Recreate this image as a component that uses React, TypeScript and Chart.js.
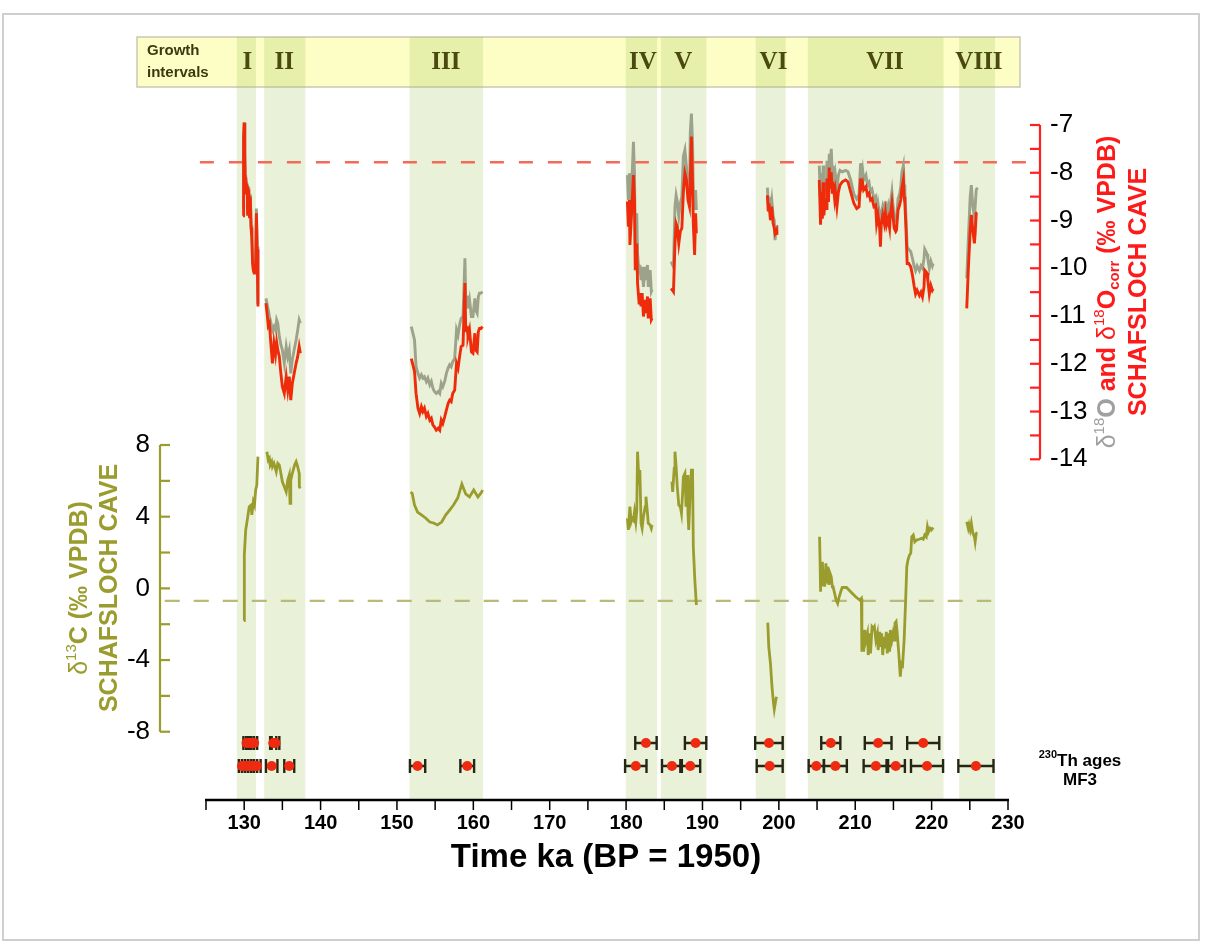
import React, { useEffect, useRef } from "react";
import { Chart, registerables } from "chart.js";
Chart.register(...registerables);

// ---------- axes ----------
const X_MIN = 125;
const X_MAX = 230;
const X_TICKS = [125, 130, 135, 140, 145, 150, 155, 160, 165, 170, 175, 180, 185, 190, 195, 200, 205, 210, 215, 220, 225, 230];
const X_LABELS = [130, 140, 150, 160, 170, 180, 190, 200, 210, 220, 230];
const O18_LABELS = [-7, -8, -9, -10, -11, -12, -13, -14];
const O18_MINOR = [-7.5, -8.5, -9.5, -10.5, -11.5, -12.5, -13.5];
const C13_LABELS = [8, 4, 0, -4, -8];
const C13_MINOR = [6, 2, -2, -6];

// ---------- growth intervals ----------
const intervalNames = ["I", "II", "III", "IV", "V", "VI", "VII", "VIII"];
const intervalStart = [129.04, 132.62, 151.65, 179.96, 184.55, 196.97, 203.8, 223.6];
const intervalEnd = [131.54, 138.0, 161.27, 184.07, 190.5, 200.9, 221.56, 228.3];
const intervalLabelAt = [130.4, 135.25, 156.4, 182.2, 187.5, 199.3, 213.9, 226.2];

// ---------- reference lines ----------
const O18_REF = -7.78;
const C13_REF = -0.7;

// ---------- d18O (grey) and d18Ocorr (red) ----------
const kaI = [129.85, 129.9, 129.95, 130.0, 130.05, 130.1, 130.15, 130.2, 130.3, 130.4, 130.45, 130.5, 130.6, 130.7, 130.8, 130.9, 131.0, 131.1, 131.2, 131.3, 131.4, 131.5, 131.6, 131.7, 131.8];
const redI = [-8.9, -8.2, -7.3, -6.95, -7.9, -7.6, -8.3, -8.1, -8.45, -8.3, -8.9, -8.35, -8.4, -8.95, -8.5, -9.15, -9.35, -9.9, -10.05, -10.1, -9.9, -10.0, -8.85, -9.6, -10.8];
const greyI = [-8.75, -8.15, -7.25, -6.95, -7.85, -7.55, -8.25, -8.05, -8.4, -8.25, -8.85, -8.3, -8.35, -8.9, -8.45, -9.1, -9.3, -9.85, -10.0, -10.05, -9.85, -9.95, -8.75, -9.55, -10.75];

const kaII = [132.85, 133.0, 133.15, 133.3, 133.5, 133.7, 133.9, 134.1, 134.25, 134.4, 134.6, 134.8, 135.0, 135.25, 135.5, 135.7, 135.9, 136.1, 136.3, 136.55, 136.8, 137.0, 137.2, 137.35];
const redII = [-10.73, -10.95, -11.2, -11.15, -11.6, -11.99, -11.57, -11.8, -11.55, -11.71, -11.85, -12.2, -12.48, -12.62, -12.27, -12.55, -12.27, -12.76, -12.41, -12.2, -11.99, -11.85, -11.64, -11.78];
const greyII = [-10.63, -10.75, -10.87, -11.0, -11.15, -11.3, -11.22, -11.3, -11.08, -11.15, -11.43, -11.6, -11.71, -11.99, -11.64, -11.85, -11.71, -12.2, -11.92, -11.7, -11.5, -11.3, -11.08, -11.15];

const kaIII = [151.88, 152.3, 152.5, 152.75, 152.97, 153.2, 153.4, 153.6, 153.85, 154.05, 154.3, 154.5, 154.7, 154.9, 155.15, 155.4, 155.6, 155.8, 156.0, 156.25, 156.47, 156.7, 156.9, 157.1, 157.3, 157.56, 157.8, 158.0, 158.2, 158.4, 158.65, 158.9, 159.0, 159.2, 159.3, 159.5, 159.75, 159.95, 160.2, 160.3, 160.5, 160.65, 160.8, 161.0, 161.2];
const redIII = [-11.89, -12.16, -12.62, -12.93, -13.04, -12.9, -13.0, -12.93, -13.1, -13.04, -13.18, -13.14, -13.28, -13.32, -13.39, -13.35, -13.39, -13.18, -13.25, -13.11, -12.97, -12.83, -12.76, -12.79, -12.62, -12.55, -11.99, -12.09, -11.85, -11.64, -11.61, -10.31, -11.29, -11.26, -11.43, -11.29, -11.75, -11.78, -11.36, -11.71, -11.75, -11.33, -11.26, -11.26, -11.22];
const greyIII = [-11.22, -11.5, -12.06, -12.2, -12.3, -12.23, -12.3, -12.27, -12.37, -12.3, -12.44, -12.37, -12.51, -12.58, -12.62, -12.58, -12.62, -12.41, -12.48, -12.37, -12.2, -12.09, -12.02, -12.06, -11.96, -11.89, -11.29, -11.4, -11.19, -11.05, -11.01, -9.79, -10.6, -10.6, -10.84, -10.66, -11.01, -11.01, -10.63, -10.87, -10.94, -10.6, -10.52, -10.52, -10.49];

const kaIV = [180.17, 180.3, 180.43, 180.5, 180.7, 180.96, 181.1, 181.2, 181.4, 181.5, 181.7, 181.8, 181.96, 182.1, 182.27, 182.5, 182.6, 182.8, 182.9, 183.15, 183.3, 183.4];
const redIV = [-8.6, -9.13, -8.57, -9.51, -8.92, -8.05, -8.57, -10.04, -9.48, -10.31, -10.73, -10.52, -10.8, -10.52, -11.01, -10.66, -10.94, -10.59, -11.05, -10.63, -11.08, -11.05];
const greyIV = [-8.05, -8.57, -8.01, -8.99, -8.43, -7.35, -8.01, -9.41, -8.85, -9.69, -10.1, -9.93, -10.25, -9.97, -10.39, -9.97, -10.25, -9.93, -10.39, -10.04, -10.49, -10.45];

const kaV = [185.9, 186.2, 186.4, 186.55, 186.7, 186.9, 187.1, 187.3, 187.5, 187.7, 187.9, 188.1, 188.3, 188.4, 188.55, 188.7, 188.8, 188.97, 189.1, 189.2];
const redV = [-10.42, -10.49, -9.48, -9.06, -9.13, -9.48, -9.23, -9.16, -8.4, -8.01, -8.15, -8.57, -8.71, -8.15, -7.24, -8.22, -9.06, -9.72, -8.85, -9.27];
const greyV = [-9.86, -9.97, -8.71, -8.47, -8.6, -8.92, -8.64, -8.5, -7.66, -7.52, -7.87, -8.36, -8.5, -7.17, -6.76, -7.38, -8.43, -8.78, -8.36, -8.78];

const kaVI = [198.5, 198.6, 198.7, 198.9, 199.07, 199.25, 199.4, 199.5, 199.7, 199.75];
const redVI = [-8.47, -8.78, -8.64, -8.99, -8.71, -9.06, -9.16, -9.27, -9.2, -9.3];
const greyVI = [-8.31, -8.6, -8.5, -8.78, -8.57, -8.9, -9.0, -9.41, -9.1, -9.2];

const kaVII = [205.29, 205.46, 205.6, 205.7, 205.8, 205.9, 206.07, 206.2, 206.3, 206.5, 206.6, 206.7, 206.86, 207.0, 207.1, 207.3, 207.4, 207.6, 207.8, 208.0, 208.3, 208.74, 209.05, 209.4, 209.83, 210.2, 210.5, 210.7, 210.84, 210.97, 211.1, 211.4, 211.6, 211.8, 212.0, 212.2, 212.45, 212.67, 212.8, 212.98, 213.2, 213.3, 213.4, 213.6, 213.8, 213.95, 214.1, 214.3, 214.5, 214.6, 214.8, 214.9, 215.1, 215.3, 215.4, 215.6, 215.8, 215.96, 216.1, 216.3, 216.4, 216.5, 216.65, 216.8, 217.0, 217.27, 217.5, 217.7, 217.9, 218.1, 218.4, 218.6, 218.8, 219.0, 219.1, 219.4, 219.5, 219.7, 219.9, 220.1, 220.2];
const redVII = [-8.15, -9.09, -8.4, -8.96, -8.2, -8.89, -8.54, -8.75, -8.12, -8.61, -7.89, -8.33, -7.99, -8.44, -8.19, -8.54, -8.4, -8.71, -8.4, -8.26, -8.19, -8.15, -8.19, -8.4, -8.64, -8.75, -8.71, -8.12, -8.29, -8.22, -8.36, -8.29, -8.47, -8.43, -8.57, -8.54, -8.71, -8.68, -9.06, -8.89, -9.16, -9.55, -9.09, -8.89, -9.06, -8.85, -9.09, -8.96, -9.16, -8.89, -8.64, -8.82, -9.16, -9.23, -9.2, -8.78, -8.68, -8.57, -8.33, -8.15, -8.5, -8.64, -9.2, -9.9, -9.9, -9.97, -10.15, -10.36, -10.54, -10.46, -10.57, -10.5, -10.6, -10.39, -10.04, -10.1, -10.25, -10.54, -10.36, -10.46, -10.43];
const greyVII = [-7.85, -8.6, -8.0, -8.55, -7.85, -8.5, -8.15, -8.35, -7.75, -8.2, -7.6, -7.95, -7.5, -8.05, -7.85, -8.2, -8.05, -8.35, -8.05, -7.95, -7.98, -7.95, -7.98, -8.15, -8.45, -8.55, -8.45, -7.8, -8.1, -7.95, -8.15, -8.05, -8.25, -8.2, -8.4, -8.35, -8.55, -8.5, -8.85, -8.65, -8.9, -9.25, -8.85, -8.7, -8.85, -8.6, -8.85, -8.7, -8.95, -8.65, -8.4, -8.6, -8.95, -9.0, -8.95, -8.55, -8.45, -8.3, -8.0, -7.85, -8.25, -8.4, -8.95, -9.55, -9.6, -9.65, -9.8, -9.95, -10.05, -9.95, -10.05, -9.95, -10.0, -9.8, -9.6, -9.7, -9.8, -10.0, -9.85, -9.95, -9.9];

const kaVIII = [224.6, 224.8, 225.05, 225.2, 225.4, 225.6, 225.7, 225.84, 226.0];
const redVIII = [-10.84, -10.04, -9.2, -8.88, -9.2, -9.48, -9.27, -8.85, -8.84];
const greyVIII = [-10.21, -9.41, -8.5, -8.26, -8.71, -8.92, -8.71, -8.36, -8.31];

// ---------- d13C (olive) ----------
const kaC1 = [129.98, 129.99, 130.05, 130.2, 130.4, 130.66, 130.9, 131.0, 131.2, 131.35, 131.5, 131.65, 131.8];
const c13_1 = [-1.8, 1.5, 1.9, 3.26, 3.81, 4.56, 4.65, 4.1, 4.84, 4.65, 5.49, 5.77, 7.35];
const kaC2 = [132.97, 133.15, 133.3, 133.4, 133.6, 133.7, 133.9, 134.2, 134.4, 134.6, 134.8, 135.0, 135.25, 135.5, 135.7, 135.9, 136.0, 136.1, 136.3, 136.6, 136.8, 137.0, 137.2, 137.22, 137.35];
const c13_2 = [7.63, 7.16, 7.26, 6.88, 7.07, 6.79, 6.98, 6.51, 6.98, 6.88, 6.42, 5.95, 5.67, 5.39, 6.05, 6.33, 4.75, 6.05, 6.42, 6.88, 7.07, 6.79, 6.42, 5.67, 5.58];
const kaC3 = [151.8, 152.0, 152.3, 152.7, 153.2, 153.75, 154.3, 154.8, 155.3, 155.85, 156.4, 156.9, 157.4, 157.95, 158.5, 159.0, 159.5, 160.05, 160.6, 161.1, 161.2];
const c13_3 = [5.38, 5.3, 4.65, 4.26, 4.1, 3.93, 3.7, 3.65, 3.54, 3.7, 4.1, 4.37, 4.65, 5.04, 5.82, 5.27, 5.1, 5.49, 5.1, 5.38, 5.49];
const kaC4 = [180.17, 180.3, 180.5, 180.66, 180.8, 180.96, 181.1, 181.27, 181.4, 181.5, 181.7, 181.8, 181.96, 182.1, 182.27, 182.5, 182.6, 182.8, 182.9, 183.15, 183.3, 183.4];
const c13_4 = [3.91, 3.26, 4.56, 3.72, 3.91, 3.81, 4.28, 3.72, 4.37, 7.63, 5.86, 6.6, 3.63, 3.35, 4.0, 4.56, 5.12, 4.19, 3.63, 3.54, 3.35, 3.54];
const kaC5 = [186.0, 186.1, 186.3, 186.4, 186.55, 186.7, 186.9, 187.1, 187.25, 187.4, 187.5, 187.7, 187.85, 188.0, 188.1, 188.2, 188.4, 188.55, 188.7, 188.8, 189.0, 189.2];
const c13_5 = [5.95, 5.39, 6.7, 7.63, 6.79, 5.67, 4.65, 4.56, 4.19, 5.3, 6.23, 6.42, 4.56, 6.33, 4.19, 3.26, 5.49, 6.6, 6.6, 2.32, 0.47, -0.93];
const kaC6 = [198.55, 198.68, 198.9, 199.1, 199.3, 199.4, 199.6, 199.7];
const c13_6 = [-1.91, -3.26, -4.19, -5.49, -6.42, -6.75, -6.23, -6.05];
const kaC7 = [205.33, 205.4, 205.46, 205.55, 205.63, 205.7, 205.8, 205.9, 206.0, 206.16, 206.3, 206.4, 206.55, 206.7, 206.86, 207.0, 207.1, 207.3, 207.5, 207.7, 207.9, 208.1, 208.3, 208.86, 209.4, 210.05, 210.6, 210.8, 210.87, 211.0, 211.1, 211.25, 211.4, 211.6, 211.7, 211.9, 212.0, 212.2, 212.37, 212.5, 212.7, 212.9, 213.0, 213.2, 213.3, 213.46, 213.6, 213.77, 213.9, 214.07, 214.2, 214.4, 214.5, 214.6, 214.8, 214.95, 215.1, 215.2, 215.35, 215.5, 215.7, 215.9, 216.05, 216.2, 216.4, 216.6, 216.75, 216.9, 217.1, 217.27, 217.4, 217.6, 217.8, 218.06, 218.37, 218.7, 218.9, 219.1, 219.3, 219.45, 219.6, 219.8, 219.97, 220.2];
const c13_7 = [2.88, 1.4, -0.19, 1.21, 0.47, 1.49, 0.19, 1.02, 0.09, 1.4, 0.28, 1.21, 0.19, 0.84, 0.65, 0.09, 0.09, -0.28, -0.65, -0.84, -0.47, -0.19, 0.05, 0.05, -0.19, -0.47, -0.65, -0.56, -3.53, -2.51, -3.53, -2.32, -2.88, -2.51, -3.72, -2.51, -3.63, -2.14, -2.23, -2.14, -2.88, -2.51, -3.44, -2.42, -3.26, -2.51, -3.72, -2.7, -3.35, -2.42, -3.63, -2.51, -3.53, -2.32, -2.88, -2.51, -2.88, -1.95, -1.86, -2.51, -3.63, -4.93, -4.19, -4.28, -2.88, -0.65, 1.21, 1.58, 1.86, 1.96, 2.88, 2.98, 2.6, 2.7, 2.74, 2.79, 2.74, 2.98, 2.88, 3.44, 3.16, 3.35, 3.26, 3.4];
const kaC8 = [224.6, 224.8, 224.9, 225.05, 225.2, 225.4, 225.6, 225.7, 225.84, 226.0];
const c13_8 = [3.72, 3.35, 3.54, 3.26, 3.63, 3.07, 2.88, 2.6, 3.07, 3.1];

// ---------- 230Th ages (MF3) ----------
const ageKa = [130.3, 130.6, 130.9, 131.3, 133.8, 134.1, 182.6, 189.1, 198.7, 206.8, 213.0, 218.9,
  129.7, 130.1, 130.5, 130.9, 131.3, 131.7, 133.6, 135.9, 152.7, 159.2, 181.27, 186.0, 188.4, 198.8, 204.9, 207.4, 212.7, 215.3, 219.4, 225.8];
const ageErr = [0.4, 0.35, 0.4, 0.4, 0.4, 0.5, 1.4, 1.4, 1.8, 1.25, 1.75, 2.1,
  0.4, 0.4, 0.4, 0.4, 0.4, 0.45, 0.75, 0.65, 1.0, 0.9, 1.4, 1.3, 1.3, 1.7, 1.0, 1.5, 1.6, 1.2, 2.1, 2.3];
const ageRow = [2, 2, 2, 2, 2, 2, 2, 2, 2, 2, 2, 2,
  1, 1, 1, 1, 1, 1, 1, 1, 1, 1, 1, 1, 1, 1, 1, 1, 1, 1, 1, 1];

// ---------- colours ----------
const RED = "#ee2c0c";
const GREY = "#9ca38a";
const OLIVE = "#9b9c2e";
const SANS = "'Liberation Sans', Arial, sans-serif";

function joinSegments(kas: number[][], vals: number[][]) {
  const out: { x: number; y: number | null }[] = [];
  kas.forEach((k, i) => {
    if (i > 0) {
      const prev = kas[i - 1];
      out.push({ x: (prev[prev.length - 1] + k[0]) / 2, y: null });
    }
    k.forEach((x, j) => out.push({ x, y: vals[i][j] }));
  });
  return out;
}

type Part = { t: string; font: string; color: string; dy?: number };
function drawRich(ctx: CanvasRenderingContext2D, parts: Part[], cx: number, cy: number, rot: number) {
  ctx.save();
  ctx.translate(cx, cy);
  ctx.rotate(rot);
  let total = 0;
  parts.forEach((p) => { ctx.font = p.font; total += ctx.measureText(p.t).width; });
  let x = -total / 2;
  ctx.textAlign = "left";
  ctx.textBaseline = "middle";
  parts.forEach((p) => {
    ctx.font = p.font;
    ctx.fillStyle = p.color;
    ctx.fillText(p.t, x, p.dy || 0);
    x += ctx.measureText(p.t).width;
  });
  ctx.restore();
}

const overlay = {
  id: "overlay",
  beforeDraw(chart: any) {
    const ctx = chart.ctx as CanvasRenderingContext2D;
    ctx.save();
    ctx.fillStyle = "#ffffff";
    ctx.fillRect(0, 0, chart.width, chart.height);
    ctx.strokeStyle = "#cfcfcf";
    ctx.lineWidth = 2;
    ctx.strokeRect(3, 14, 1196, 926);
    ctx.restore();
  },
  beforeDatasetsDraw(chart: any) {
    const ctx = chart.ctx as CanvasRenderingContext2D;
    const { x, yA } = chart.scales;
    const area = chart.chartArea;
    ctx.save();
    // growth interval box
    const boxL = 137, boxR = 1020, boxT = 37, boxB = 87;
    ctx.fillStyle = "#fdfdc6";
    ctx.fillRect(boxL, boxT, boxR - boxL, boxB - boxT);
    ctx.strokeStyle = "#c9c9b0";
    ctx.lineWidth = 1.5;
    ctx.strokeRect(boxL, boxT, boxR - boxL, boxB - boxT);
    // shaded bands
    ctx.fillStyle = "rgba(150,195,70,0.21)";
    intervalStart.forEach((s, i) => {
      const l = x.getPixelForValue(s);
      const r = x.getPixelForValue(intervalEnd[i]);
      ctx.fillRect(l, boxT, r - l, area.bottom - boxT);
    });
    // labels
    ctx.fillStyle = "#4a4a10";
    ctx.font = "bold 25px 'Liberation Serif', 'Times New Roman', serif";
    ctx.textAlign = "center";
    ctx.textBaseline = "middle";
    intervalNames.forEach((n, i) => ctx.fillText(n, x.getPixelForValue(intervalLabelAt[i]), 63));
    ctx.fillStyle = "#3a3a10";
    ctx.font = `bold 15px ${SANS}`;
    ctx.textAlign = "left";
    ctx.fillText("Growth", 147, 51);
    ctx.fillText("intervals", 147, 73);
    // error bars
    ctx.strokeStyle = "#262615";
    ctx.lineWidth = 2.4;
    ageKa.forEach((k, i) => {
      const py = yA.getPixelForValue(ageRow[i]);
      const l = x.getPixelForValue(k - ageErr[i]);
      const r = x.getPixelForValue(k + ageErr[i]);
      ctx.beginPath();
      ctx.moveTo(l, py); ctx.lineTo(r, py);
      ctx.moveTo(l, py - 7); ctx.lineTo(l, py + 7);
      ctx.moveTo(r, py - 7); ctx.lineTo(r, py + 7);
      ctx.stroke();
    });
    ctx.restore();
  },
  afterDatasetsDraw(chart: any) {
    const ctx = chart.ctx as CanvasRenderingContext2D;
    const { x, yO, yC } = chart.scales;
    const area = chart.chartArea;
    ctx.save();
    // x axis
    ctx.strokeStyle = "#000";
    ctx.lineWidth = 2.5;
    ctx.beginPath();
    ctx.moveTo(x.getPixelForValue(X_MIN) - 1, area.bottom);
    ctx.lineTo(x.getPixelForValue(X_MAX) + 1, area.bottom);
    ctx.stroke();
    ctx.lineWidth = 1.5;
    X_TICKS.forEach((t) => {
      const px = x.getPixelForValue(t);
      ctx.beginPath(); ctx.moveTo(px, area.bottom); ctx.lineTo(px, area.bottom + 10); ctx.stroke();
    });
    ctx.fillStyle = "#000";
    ctx.font = `bold 20px ${SANS}`;
    ctx.textAlign = "center";
    ctx.textBaseline = "middle";
    X_LABELS.forEach((t) => ctx.fillText(String(t), x.getPixelForValue(t), 823));
    ctx.font = `bold 33px ${SANS}`;
    ctx.fillText("Time ka (BP = 1950)", 606, 858);

    // left axis (d13C)
    const lx = 160;
    ctx.strokeStyle = OLIVE;
    ctx.lineWidth = 2.2;
    ctx.beginPath();
    ctx.moveTo(lx, yC.getPixelForValue(8)); ctx.lineTo(lx, yC.getPixelForValue(-8));
    ctx.stroke();
    [...C13_LABELS, ...C13_MINOR].forEach((t) => {
      const py = yC.getPixelForValue(t);
      ctx.beginPath(); ctx.moveTo(lx, py); ctx.lineTo(lx + 10, py); ctx.stroke();
    });
    ctx.fillStyle = "#000";
    ctx.font = `26px ${SANS}`;
    ctx.textAlign = "right";
    C13_LABELS.forEach((t) => ctx.fillText(String(t), 150, yC.getPixelForValue(t)));

    // right axis (d18O)
    const rx = 1040;
    ctx.strokeStyle = "#ff2020";
    ctx.lineWidth = 2.2;
    ctx.beginPath();
    ctx.moveTo(rx, yO.getPixelForValue(-7)); ctx.lineTo(rx, yO.getPixelForValue(-14));
    ctx.stroke();
    [...O18_LABELS, ...O18_MINOR].forEach((t) => {
      const py = yO.getPixelForValue(t);
      ctx.beginPath(); ctx.moveTo(rx - 10, py); ctx.lineTo(rx, py); ctx.stroke();
    });
    ctx.fillStyle = "#000";
    ctx.textAlign = "left";
    O18_LABELS.forEach((t) => ctx.fillText(String(t), 1050, yO.getPixelForValue(t)));

    // axis titles
    const big = `bold 25px ${SANS}`;
    const reg = `25px ${SANS}`;
    const sm = `bold 15px ${SANS}`;
    drawRich(ctx, [
      { t: "δ", font: reg, color: OLIVE },
      { t: "13", font: `15px ${SANS}`, color: OLIVE, dy: -8 },
      { t: "C (‰ VPDB)", font: big, color: OLIVE },
    ], 80, 588, -Math.PI / 2);
    drawRich(ctx, [{ t: "SCHAFSLOCH CAVE", font: big, color: OLIVE }], 110, 588, -Math.PI / 2);
    drawRich(ctx, [
      { t: "δ", font: reg, color: "#a0a0a0" },
      { t: "18", font: `15px ${SANS}`, color: "#a0a0a0", dy: -8 },
      { t: "O", font: big, color: "#a0a0a0" },
      { t: " and ", font: big, color: "#ff1a1a" },
      { t: "δ", font: reg, color: "#ff1a1a" },
      { t: "18", font: `15px ${SANS}`, color: "#ff1a1a", dy: -8 },
      { t: "O", font: big, color: "#ff1a1a" },
      { t: "corr", font: sm, color: "#ff1a1a", dy: 7 },
      { t: " (‰ VPDB)", font: big, color: "#ff1a1a" },
    ], 1108, 292, -Math.PI / 2);
    drawRich(ctx, [{ t: "SCHAFSLOCH CAVE", font: big, color: "#ff1a1a" }], 1139, 292, -Math.PI / 2);

    // Th ages label
    drawRich(ctx, [
      { t: "230", font: `bold 11px ${SANS}`, color: "#000", dy: -6 },
      { t: "Th ages", font: `bold 17px ${SANS}`, color: "#000" },
    ], 1080, 761, 0);
    drawRich(ctx, [{ t: "MF3", font: `bold 17px ${SANS}`, color: "#000" }], 1080, 780, 0);
    ctx.restore();
  },
};

export default function App() {
  const ref = useRef<HTMLCanvasElement>(null);
  useEffect(() => {
    if (!ref.current) return;
    const kaO = [kaI, kaII, kaIII, kaIV, kaV, kaVI, kaVII, kaVIII];
    const redData = joinSegments(kaO, [redI, redII, redIII, redIV, redV, redVI, redVII, redVIII]);
    const greyData = joinSegments(kaO, [greyI, greyII, greyIII, greyIV, greyV, greyVI, greyVII, greyVIII]);
    const oliveData = joinSegments([kaC1, kaC2, kaC3, kaC4, kaC5, kaC6, kaC7, kaC8], [c13_1, c13_2, c13_3, c13_4, c13_5, c13_6, c13_7, c13_8]);
    const ageData = ageKa.map((k, i) => ({ x: k, y: ageRow[i] }));
    const chart = new Chart(ref.current, {
      type: "line",
      data: {
        datasets: [
          { data: ageData, yAxisID: "yA", showLine: false, pointRadius: 5, pointBackgroundColor: "#ee2a10", pointBorderWidth: 0, borderColor: "#ee2a10" } as any,
          { data: redData, yAxisID: "yO", borderColor: RED, borderWidth: 2.9, pointRadius: 0, spanGaps: false, tension: 0 },
          { data: greyData, yAxisID: "yO", borderColor: GREY, borderWidth: 2.9, pointRadius: 0, spanGaps: false, tension: 0 },
          { data: oliveData, yAxisID: "yC", borderColor: OLIVE, borderWidth: 2.8, pointRadius: 0, spanGaps: false, tension: 0 },
          { data: [{ x: 124.2, y: O18_REF }, { x: 233.0, y: O18_REF }], yAxisID: "yO", borderColor: "#f26a58", borderWidth: 2.4, borderDash: [14, 15], pointRadius: 0, clip: false } as any,
          { data: [{ x: 119.6, y: C13_REF }, { x: 227.8, y: C13_REF }], yAxisID: "yC", borderColor: "#b9b978", borderWidth: 2.4, borderDash: [15, 14], pointRadius: 0, clip: false } as any,
        ],
      },
      options: {
        responsive: false,
        maintainAspectRatio: false,
        animation: false,
        layout: { padding: { left: 206, right: 197, top: 37, bottom: 145 } },
        plugins: { legend: { display: false }, tooltip: { enabled: false } },
        scales: {
          x: { type: "linear", min: X_MIN, max: X_MAX, display: false },
          yO: { type: "linear", min: -21.134, max: -5.157, display: false },
          yC: { type: "linear", min: -11.81, max: 30.77, display: false },
          yA: { type: "linear", min: -0.478, max: 32.7, display: false },
        },
      },
      plugins: [overlay],
    });
    return () => chart.destroy();
  }, []);
  return (
    <div style={{ position: "absolute", left: 0, top: 0, width: 1205, height: 945, background: "#fff" }}>
      <canvas ref={ref} width={1205} height={945} style={{ display: "block" }} />
    </div>
  );
}
